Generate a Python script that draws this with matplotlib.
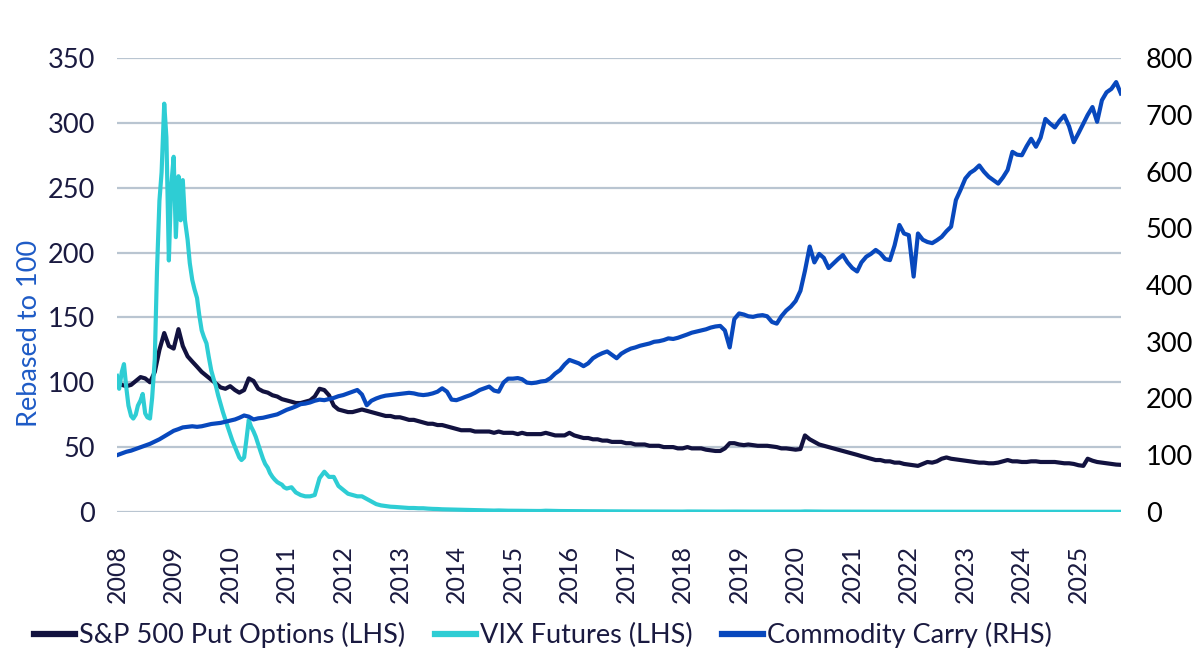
import matplotlib
matplotlib.use("Agg")
import matplotlib.pyplot as plt
import matplotlib.dates as mdates
from matplotlib.lines import Line2D
import pandas as pd

plt.rcParams['font.family'] = ['Lato', 'DejaVu Sans']

# Datas mensais (S&P Put e Commodity Carry), de jan/2008 a out/2025
meses_inicio = '2008-01-01'
meses_fim = '2025-10-01'

# S&P 500 Put Options (LHS), rebased to 100
sp_put = [
    100, 98, 97, 98, 101, 104, 103, 100, 108, 125, 138, 128,
    126, 141, 128, 120, 116, 112, 108, 105, 102, 99, 96, 95,
    97, 94, 92, 94, 103, 101, 95, 93, 92, 90, 89, 87,
    86, 85, 84, 84, 85, 86, 89, 95, 94, 90, 82, 79,
    78, 77, 77, 78, 79, 78, 77, 76, 75, 74, 74, 73,
    73, 72, 71, 71, 70, 69, 68, 68, 67, 67, 66, 65,
    64, 63, 63, 63, 62, 62, 62, 62, 61, 62, 61, 61,
    61, 60, 61, 60, 60, 60, 60, 61, 60, 59, 59, 59,
    61, 59, 58, 57, 57, 56, 56, 55, 55, 54, 54, 54,
    53, 53, 52, 52, 52, 51, 51, 51, 50, 50, 50, 49,
    49, 50, 49, 49, 49, 48, 47.5, 47, 47, 49, 53, 53,
    52, 51.5, 52, 51.5, 51, 51, 51, 50.5, 50, 49, 49, 48.5,
    48, 48.5, 59, 56, 54, 52, 51, 50, 49, 48, 47, 46,
    45, 44, 43, 42, 41, 40, 40, 39, 39, 38, 38, 37,
    36.5, 36, 35.5, 37, 38.5, 38, 39, 41, 42, 41, 40.5, 40,
    39.5, 39, 38.5, 38, 38, 37.5, 37.5, 38, 39, 40, 39, 39,
    38.5, 38.5, 39, 39, 38.5, 38.5, 38.5, 38.5, 38, 37.5, 37.5, 37,
    36, 35.5, 41, 39.5, 38.5, 38, 37.5, 37, 36.5, 36.3,
]

# Commodity Carry (RHS)
commodity = [
    100, 103, 106, 108, 111, 114, 117, 120, 124, 128, 133, 138,
    143, 146, 149, 150, 151, 150, 151, 153, 155, 156, 157, 159,
    161, 163, 166, 170, 168, 163, 165, 166, 168, 170, 172, 176,
    180, 183, 186, 190, 191, 193, 196, 198, 197, 199, 201, 204,
    206, 209, 212, 215, 207, 188, 196, 200, 203, 205, 206, 207,
    208, 209, 210, 209, 207, 206, 207, 209, 212, 218, 212, 198,
    197, 200, 203, 206, 210, 215, 218, 221, 214, 212, 228, 235,
    235, 236, 234, 228, 227, 228, 230, 231, 236, 244, 250, 260,
    268, 265, 262, 257, 262, 271, 276, 280, 283, 277, 271, 279,
    284, 288, 290, 293, 295, 297, 300, 301, 303, 306, 305, 307,
    310, 313, 316, 318, 320, 322, 325, 327, 328, 320, 290, 340,
    350, 348, 345, 344, 346, 347, 345, 335, 332, 345, 355, 362,
    372, 390, 425, 468, 440, 455, 448, 430, 438, 446, 453, 440,
    430, 424, 440, 450, 455, 462, 456, 446, 444, 470, 506, 491,
    488, 415, 491, 480, 476, 474, 479, 485, 495, 503, 550, 568,
    588, 598, 603, 611, 600, 591, 585, 579, 590, 603, 635, 630,
    629, 645, 658, 644, 660, 693, 685, 678, 690, 699, 680, 652,
    668, 685, 700, 714, 688, 726, 740, 746, 758, 738,
]

# VIX Futures (LHS): quinzenal 2008-2010, depois mensal
vix_quinzenal = [
    105, 95, 108, 114, 96, 82, 74, 72, 75, 82, 86, 91,
    76, 73, 72, 88, 118, 185, 240, 262, 315, 289, 194, 250,
    274, 212, 259, 225, 256, 225, 210, 192, 179, 172, 165, 152,
    140, 135, 130, 120, 109, 103, 97, 90, 83, 77, 71, 66,
    60, 55, 50, 46, 42, 40, 42, 55, 71, 66, 62, 58,
    52, 47, 41, 37, 34, 30, 27, 25, 23, 22, 21, 19,
]
vix_mensal = [
    18, 19, 15, 13, 12, 12, 13, 26, 31, 27, 27, 20,
    17, 14, 13, 12, 12, 10, 8, 6, 5, 4.5, 4, 3.8,
    3.5, 3.2, 3.0, 3.0, 2.8, 2.8, 2.5, 2.3, 2.2, 2.0, 1.9, 1.8,
    1.7, 1.6, 1.5, 1.4, 1.3, 1.2, 1.1, 1.1, 1.0, 1.1, 1.0, 0.9,
    0.9, 0.85, 0.8, 0.8, 0.75, 0.7, 0.7, 0.9, 0.8, 0.7, 0.65, 0.6,
    0.6, 0.6, 0.55, 0.5, 0.5, 0.5, 0.45, 0.45, 0.4, 0.4, 0.4, 0.35,
    0.35, 0.33, 0.32, 0.3, 0.3, 0.28, 0.27, 0.27, 0.26, 0.25, 0.24, 0.23,
    0.22, 0.3, 0.28, 0.26, 0.25, 0.24, 0.23, 0.22, 0.21, 0.24, 0.23, 0.25,
    0.22, 0.21, 0.2, 0.2, 0.2, 0.19, 0.19, 0.19, 0.18, 0.18, 0.17, 0.17,
    0.17, 0.2, 0.35, 0.3, 0.25, 0.23, 0.21, 0.2, 0.2, 0.2, 0.18, 0.17,
    0.16, 0.16, 0.15, 0.15, 0.14, 0.14, 0.13, 0.13, 0.13, 0.13, 0.12, 0.12,
    0.12, 0.12, 0.12, 0.11, 0.11, 0.11, 0.1, 0.1, 0.1, 0.1, 0.1, 0.09,
    0.09, 0.09, 0.09, 0.08, 0.08, 0.08, 0.08, 0.08, 0.07, 0.07, 0.07, 0.07,
    0.07, 0.07, 0.06, 0.06, 0.06, 0.06, 0.06, 0.06, 0.06, 0.05, 0.05, 0.05,
    0.05, 0.05, 0.05, 0.05, 0.05, 0.04, 0.04, 0.04, 0.04, 0.04,
]

legendas = ['S&P 500 Put Options (LHS)', 'VIX Futures (LHS)', 'Commodity Carry (RHS)']
ticks_esq = [0, 50, 100, 150, 200, 250, 300, 350]
ticks_dir = [0, 100, 200, 300, 400, 500, 600, 700, 800]

COR_SP = '#12123f'
COR_VIX = '#2ecdd4'
COR_COM = '#0848bd'
COR_TXT = '#1a1a40'
TAM = 19.5


def main():
    meses = pd.date_range(meses_inicio, meses_fim, freq='MS')
    vix_datas = pd.date_range('2008-01-01', '2010-12-16', freq='SMS').append(
        pd.date_range('2011-01-01', meses_fim, freq='MS'))
    vix = vix_quinzenal + vix_mensal

    fig = plt.figure(figsize=(12, 6.7), dpi=100)
    ax = fig.add_axes([0.0975, 0.236, 0.8365, 0.677])
    ax2 = ax.twinx()

    # Linhas
    ax.plot(meses, sp_put, color=COR_SP, lw=3, zorder=3)
    ax.plot(vix_datas, vix, color=COR_VIX, lw=3, zorder=4)
    ax2.plot(meses, commodity, color=COR_COM, lw=3)

    # Eixos
    ax.set_ylim(0, 350)
    ax2.set_ylim(0, 800)
    ax.set_xlim(pd.Timestamp(meses_inicio), pd.Timestamp(meses_fim))
    ax.set_yticks(ticks_esq)
    ax2.set_yticks(ticks_dir)
    ax.grid(axis='y', color='#b9c5d1', lw=1.6)
    ax.set_axisbelow(True)
    for a in (ax, ax2):
        for s in a.spines.values():
            s.set_visible(False)
        a.tick_params(length=0)

    ax.xaxis.set_major_locator(mdates.YearLocator())
    ax.xaxis.set_major_formatter(mdates.DateFormatter('%Y'))
    ax.tick_params(axis='x', labelrotation=90, labelsize=18, colors=COR_TXT, pad=24)
    ax.tick_params(axis='y', labelsize=TAM, colors=COR_TXT, pad=16)
    ax2.tick_params(axis='y', labelsize=TAM, colors='black', pad=18)

    fig.text(0.025, 0.503, 'Rebased to 100', rotation=90, color='#1e5bc6',
             fontsize=TAM, ha='center', va='center')

    # Legenda
    handles = [Line2D([], [], color=c, lw=4.5) for c in (COR_SP, COR_VIX, COR_COM)]
    fig.legend(handles, legendas, loc='center', bbox_to_anchor=(0.4525, 0.052),
               ncol=3, frameon=False, fontsize=TAM, handlelength=1.5,
               handletextpad=0.15, columnspacing=1.1, labelcolor=COR_TXT)

    fig.savefig('out.png', dpi=100)
    return 0


main()
